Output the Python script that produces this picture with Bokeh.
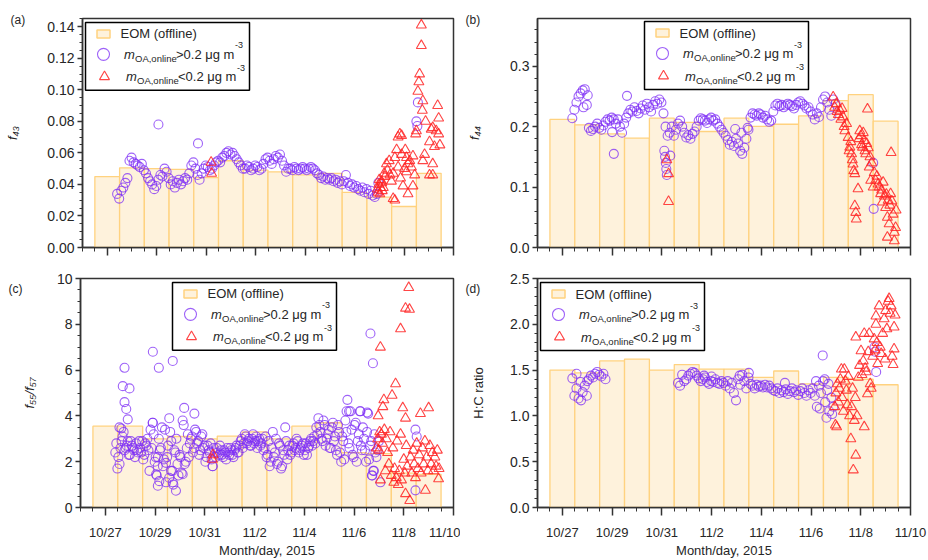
import numpy as np
from bokeh.plotting import figure
from bokeh.layouts import column, row
from bokeh.models import FixedTicker, Range1d, NumeralTickFormatter, BoxAnnotation
from bokeh.core.properties import value
from bokeh.embed import file_html
from bokeh.resources import INLINE

FONT = "Liberation Sans"
TXT = "#262626"
AX = "#333333"
BAR_FILL = "#FEF2DC"
BAR_LINE = "#FFD27F"
PURPLE = "#7E2EF5"
RED = "#FF2424"

# ---------------- data (x = days after 10/26/2015 00:00) ----------------
bar_days = list(range(1, 15))
x_major = [1, 3, 5, 7, 9, 11, 13, 15]
x_labels = ["10/27", "10/29", "10/31", "11/2", "11/4", "11/6", "11/8", "11/10"]

# EOM (offline) daily bars
bars_a = [0.045, 0.0505, 0.050, 0.0495, 0.0443, 0.055, 0.049, 0.048, 0.046, 0.047, 0.035, 0.032, 0.026, 0.047]
bars_b = [0.212, 0.203, 0.188, 0.181, 0.214, 0.207, 0.192, 0.214, 0.2005, 0.204, 0.218, 0.243, 0.253, 0.209]
bars_c = [3.55, 3.55, 3.0, 3.1, 3.0, 3.12, 3.3, 3.0, 3.55, 3.7, 2.4, 2.35, 1.5, 1.45]
bars_d = [1.50, 1.47, 1.60, 1.62, 1.50, 1.56, 1.51, 1.51, 1.42, 1.49, 1.35, 1.42, 1.40, 1.34]

# online, mOA > 0.2 (2-hourly series)
circ_step = 1.0 / 12.0
circ_a_start = 1.40
circ_a = [0.034, 0.031, 0.036, 0.038, 0.041, 0.044, 0.055, 0.057, 0.054, 0.053, 0.052, 0.051,
          0.053, 0.049, 0.047, 0.044, 0.042, 0.040, 0.037, 0.039, 0.043, 0.046, 0.045, 0.050,
          0.048, 0.044, 0.040, 0.042, 0.038, 0.041, 0.043, 0.040, 0.042, 0.044, 0.043, 0.047,
          0.052, 0.054, 0.050, 0.046, 0.043, 0.047, 0.050, 0.052, 0.051, 0.049, 0.050, 0.052,
          0.054, 0.055, 0.054, 0.057, 0.058, 0.060, 0.061, 0.059, 0.060, 0.058, 0.056, 0.054,
          0.052, 0.050, 0.050, 0.052, 0.051, 0.049, 0.050, 0.052, 0.051, 0.049, 0.050, 0.053,
          0.056, 0.057, 0.055, 0.053, 0.056, 0.058, 0.057, 0.059, 0.055, 0.052, 0.048, 0.050,
          0.050, 0.049, 0.051, 0.050, 0.049, 0.050, 0.051, 0.050, 0.049, 0.050, 0.051, 0.050,
          0.049, 0.047, 0.046, 0.044, 0.045, 0.043, 0.044, 0.043, 0.044, 0.042, 0.043, 0.041,
          0.042, 0.040, 0.042, 0.046, 0.041, 0.039, 0.040, 0.038, 0.039, 0.037, 0.036, 0.038,
          0.035, 0.037, 0.034, 0.036, 0.033, 0.032, 0.034]
circ_a_extra = [(3.07, 0.078), (4.67, 0.066), (13.50, 0.080), (13.54, 0.077), (13.56, 0.092), (11.96, 0.041)]

circ_b_start = 1.40
circ_b = [0.214, 0.228, 0.240, 0.250, 0.255, 0.260, 0.262, 0.236, 0.198, 0.193, 0.196, 0.200,
          0.205, 0.198, 0.195, 0.202, 0.208, 0.212, 0.210, 0.215, 0.212, 0.205, 0.212, 0.200,
          0.190, 0.205, 0.215, 0.222, 0.228, 0.225, 0.232, 0.226, 0.222, 0.230, 0.235, 0.228,
          0.238, 0.232, 0.225, 0.236, 0.242, 0.238, 0.245, 0.240, 0.222, 0.200, 0.185, 0.190,
          0.200, 0.185, 0.195, 0.205, 0.210, 0.200, 0.190, 0.182, 0.186, 0.180, 0.188, 0.192,
          0.200, 0.210, 0.214, 0.212, 0.210, 0.206, 0.212, 0.215, 0.210, 0.212, 0.205, 0.200,
          0.195, 0.190, 0.185, 0.178, 0.170, 0.175, 0.168, 0.180, 0.172, 0.160, 0.155, 0.165,
          0.180, 0.195, 0.215, 0.222, 0.220, 0.218, 0.222, 0.220, 0.215, 0.218, 0.212, 0.208,
          0.210, 0.225, 0.235, 0.238, 0.234, 0.236, 0.232, 0.235, 0.238, 0.236, 0.234, 0.230,
          0.236, 0.240, 0.242, 0.238, 0.235, 0.230, 0.232, 0.225, 0.220, 0.212, 0.222, 0.216,
          0.232, 0.245, 0.250, 0.240, 0.228, 0.218, 0.245, 0.238]
circ_b_extra = [(1.85, 0.232), (2.02, 0.252), (3.07, 0.155), (3.00, 0.191), (3.60, 0.251),
                (5.10, 0.160), (5.13, 0.150), (5.16, 0.140), (5.18, 0.130), (5.20, 0.120),
                (5.34, 0.152), (13.50, 0.140), (13.52, 0.064), (7.95, 0.196), (8.20, 0.190), (8.45, 0.198)]

circ_c_start = 1.40
circ_c = [2.4, 1.7, 3.5, 2.9, 3.3, 2.6, 2.9, 2.3, 2.7, 2.5, 2.8, 2.4,
          2.6, 2.9, 2.3, 2.7, 2.5, 3.4, 3.7, 2.0, 1.4, 3.0, 2.6, 1.8,
          3.4, 2.2, 1.3, 2.9, 1.0, 2.4, 1.9, 2.3, 1.5, 3.6, 2.0, 3.2,
          2.8, 3.1, 2.6, 3.3, 2.9, 2.5, 3.2, 2.7, 2.2, 2.5, 2.8, 1.8,
          2.4, 2.6, 2.3, 2.5, 2.2, 2.4, 2.6, 2.3, 2.5, 2.2, 2.6, 2.4,
          2.7, 3.0, 2.8, 3.1, 2.9, 2.7, 3.0, 2.8, 3.1, 2.9, 2.7, 3.0,
          2.6, 2.2, 2.9, 2.0, 3.3, 2.4, 1.9, 2.8, 1.7, 2.5, 3.5, 2.1,
          2.7, 2.4, 2.8, 2.6, 2.9, 2.5, 2.7, 2.3, 2.8, 2.6, 2.9, 2.7,
          3.1, 3.5, 3.9, 3.3, 2.9, 3.6, 3.0, 3.4, 2.6, 3.7, 3.1, 2.3,
          3.3, 2.0, 2.9, 3.8, 4.7, 2.6, 3.4, 2.2, 3.7, 2.9, 4.2, 2.5,
          3.0, 2.0, 4.1, 2.7, 1.4, 3.2, 2.2]
circ_c2_start = 1.44
circ_c2 = [2.8, 2.2, 2.6, 3.1, 2.5, 2.7, 2.3, 2.9, 2.6, 2.2, 2.5, 2.9,
           2.4, 2.1, 2.8, 3.0, 1.6, 2.6, 3.2, 2.2, 1.8, 2.5, 3.5, 2.1,
           1.1, 2.7, 3.3, 1.6, 2.5, 3.0, 1.4, 2.2, 3.8, 1.9, 2.6, 2.2,
           3.0, 2.4, 3.4, 2.8, 2.3, 3.1, 2.6, 2.0, 2.7, 2.4, 2.1, 2.6,
           2.2, 2.4, 2.7, 2.3, 2.5, 2.1, 2.4, 2.6, 2.3, 2.5, 2.7, 2.4,
           2.9, 2.6, 3.2, 2.8, 3.0, 2.7, 3.2, 2.9, 2.6, 3.0, 2.8, 2.5,
           3.1, 2.3, 1.8, 2.6, 2.2, 3.0, 2.0, 2.7, 1.8, 2.3, 2.9, 2.5,
           2.3, 2.7, 2.5, 3.0, 2.4, 2.6, 2.8, 2.5, 2.3, 2.7, 3.0, 2.9,
           2.8, 3.2, 3.6, 3.0, 3.8, 2.7, 3.2, 2.6, 3.5, 2.9, 2.5, 3.6,
           2.4, 3.1, 2.1, 3.3, 2.8, 4.2, 2.3, 3.6, 2.0, 3.2, 2.7, 3.5,
           2.5, 3.3, 2.1, 2.9, 1.6, 2.4]
circ_c_extra = [(1.77, 6.1), (1.70, 5.3), (1.97, 5.2), (1.77, 4.6), (1.84, 4.3), (1.90, 3.85), (1.64, 3.45),
                (1.57, 1.9), (2.91, 6.8), (3.15, 6.1), (3.71, 6.4), (2.91, 3.7), (3.11, 2.2), (3.04, 1.45),
                (3.17, 1.15), (3.11, 0.95), (3.57, 3.9), (3.44, 1.95), (3.64, 1.6), (3.71, 1.1), (3.84, 0.73),
                (4.11, 1.45), (4.17, 4.35), (4.58, 4.1), (5.31, 1.8), (10.70, 4.2), (10.80, 4.2), (11.26, 4.2),
                (11.53, 4.15), (11.66, 7.6), (11.76, 6.3), (11.72, 1.4), (12.06, 1.1), (11.80, 1.6),
                (13.47, 3.4), (13.52, 3.1), (13.47, 0.75), (12.00, 2.9), (11.95, 2.5)]

circ_d1_start = 1.40
circ_d1 = [1.41, 1.22, 1.30, 1.19, 1.37, 1.26, 1.33, 1.22, 1.40, 1.44, 1.42, 1.46, 1.48, 1.45, 1.43, 1.46, 1.40]
circ_d2_start = 5.65
circ_d2 = [1.36, 1.33, 1.45, 1.38, 1.40, 1.44, 1.46, 1.48, 1.47, 1.44, 1.41, 1.38,
           1.40, 1.42, 1.37, 1.35, 1.38, 1.37, 1.40, 1.36, 1.35, 1.38, 1.36, 1.33,
           1.38, 1.30, 1.36, 1.25, 1.17, 1.40, 1.34, 1.45, 1.38, 1.30, 1.42, 1.35,
           1.33, 1.30, 1.34, 1.32, 1.33, 1.31, 1.34, 1.31, 1.33, 1.30, 1.28, 1.27,
           1.30, 1.25, 1.28, 1.26, 1.29, 1.24, 1.27, 1.30, 1.26, 1.28, 1.23, 1.27,
           1.30, 1.25, 1.22, 1.28, 1.25, 1.30, 1.22, 1.10, 1.33, 1.25, 1.38, 1.15,
           1.28, 1.05, 1.20, 1.10]
circ_d_extra = [(1.57, 1.46), (1.75, 1.17), (2.00, 1.38), (6.70, 1.44), (7.00, 1.43), (8.13, 1.44),
                (8.50, 1.47), (9.95, 1.36), (11.20, 1.38), (11.35, 1.08), (11.47, 1.66), (11.55, 1.40),
                (11.62, 0.98), (11.70, 1.35), (11.85, 1.02), (13.55, 1.75), (13.57, 1.70), (13.62, 1.48)]

# online, mOA < 0.2
tri_a = [(5.20, 0.054), (5.22, 0.047), (11.92, 0.037), (11.95, 0.035), (11.98, 0.040), (12.00, 0.043),
         (12.02, 0.034), (12.05, 0.038), (12.09, 0.042), (12.10, 0.041), (12.12, 0.036), (12.16, 0.038),
         (12.20, 0.047), (12.23, 0.045), (12.29, 0.053), (12.33, 0.049), (12.43, 0.046), (12.49, 0.042),
         (12.56, 0.047), (12.56, 0.031), (12.63, 0.057), (12.63, 0.030), (12.70, 0.062), (12.76, 0.070),
         (12.76, 0.051), (12.83, 0.072), (12.90, 0.071), (12.90, 0.059), (12.96, 0.039), (13.02, 0.050),
         (13.10, 0.057), (13.10, 0.048), (13.16, 0.053), (13.16, 0.034), (13.23, 0.055), (13.30, 0.051),
         (13.36, 0.058), (13.36, 0.039), (13.43, 0.046), (13.47, 0.072), (13.56, 0.099), (13.60, 0.105),
         (13.63, 0.110), (13.70, 0.141), (13.70, 0.128), (13.74, 0.087), (13.76, 0.093), (13.76, 0.055),
         (13.83, 0.059), (13.87, 0.080), (14.03, 0.067), (14.03, 0.046), (14.10, 0.075), (14.16, 0.076),
         (14.16, 0.053), (14.16, 0.046), (14.23, 0.064), (14.30, 0.074), (14.36, 0.090), (14.40, 0.082),
         (14.40, 0.072), (14.45, 0.065), (12.40, 0.055), (12.86, 0.044), (13.05, 0.062), (13.50, 0.074)]
tri_b = [(5.20, 0.145), (5.27, 0.122), (5.27, 0.076), (11.89, 0.249), (11.95, 0.232), (12.02, 0.238),
         (12.05, 0.225), (12.10, 0.220), (12.16, 0.227), (12.20, 0.212), (12.25, 0.230), (12.29, 0.216),
         (12.33, 0.200), (12.36, 0.193), (12.43, 0.205), (12.49, 0.182), (12.53, 0.160), (12.56, 0.166),
         (12.60, 0.175), (12.63, 0.155), (12.66, 0.145), (12.69, 0.138), (12.72, 0.127), (12.76, 0.122),
         (12.76, 0.069), (12.80, 0.058), (12.82, 0.047), (12.89, 0.097), (12.93, 0.180), (12.96, 0.193),
         (13.00, 0.185), (13.03, 0.170), (13.07, 0.166), (13.10, 0.190), (13.14, 0.177), (13.17, 0.160),
         (13.20, 0.155), (13.24, 0.172), (13.27, 0.229), (13.30, 0.165), (13.34, 0.133), (13.37, 0.150),
         (13.40, 0.111), (13.44, 0.140), (13.50, 0.100), (13.54, 0.124), (13.60, 0.111), (13.65, 0.118),
         (13.70, 0.105), (13.74, 0.100), (13.80, 0.089), (13.84, 0.095), (13.87, 0.075), (13.90, 0.108),
         (13.95, 0.085), (14.00, 0.066), (14.03, 0.088), (14.07, 0.050), (14.07, 0.017), (14.10, 0.078),
         (14.14, 0.039), (14.17, 0.070), (14.20, 0.089), (14.22, 0.157), (14.25, 0.077), (14.30, 0.055),
         (14.35, 0.025), (14.35, 0.011), (14.40, 0.033), (14.42, 0.062)]
tri_c = [(5.30, 2.1), (5.33, 2.3), (11.90, 2.6), (11.95, 3.0), (11.97, 4.0), (12.00, 2.5), (12.03, 3.3),
         (12.06, 7.0), (12.06, 1.2), (12.10, 3.2), (12.14, 2.8), (12.16, 4.4), (12.20, 4.7), (12.22, 3.4),
         (12.26, 1.6), (12.30, 3.0), (12.35, 2.4), (12.40, 1.9), (12.45, 3.3), (12.50, 1.4), (12.53, 4.9),
         (12.56, 2.6), (12.60, 1.1), (12.63, 1.7), (12.67, 5.4), (12.70, 1.3), (12.73, 2.9), (12.78, 1.0),
         (12.82, 1.6), (12.87, 7.8), (12.87, 3.2), (12.91, 1.2), (12.96, 4.35), (13.00, 2.1), (13.04, 1.5),
         (13.07, 8.7), (13.07, 3.9), (13.07, 0.6), (13.10, 2.7), (13.14, 1.8), (13.20, 9.6), (13.23, 8.65),
         (13.24, 0.3), (13.27, 2.2), (13.32, 1.5), (13.38, 2.5), (13.42, 1.9), (13.47, 1.3), (13.52, 2.8),
         (13.57, 1.7), (13.62, 2.3), (13.67, 4.1), (13.70, 1.5), (13.75, 2.6), (13.80, 1.9), (13.85, 2.9),
         (13.87, 0.75), (13.92, 2.2), (13.97, 1.6), (14.00, 4.35), (14.05, 2.7), (14.10, 1.9), (14.15, 2.4),
         (14.20, 1.6), (14.25, 2.2), (14.30, 1.8), (14.35, 2.5), (14.40, 1.25), (14.42, 1.7)]
tri_d = [(11.95, 1.10), (11.98, 0.90), (12.00, 1.25), (12.03, 0.88), (12.06, 1.35), (12.10, 1.15),
         (12.14, 1.30), (12.18, 1.40), (12.22, 1.51), (12.25, 1.20), (12.30, 1.05), (12.34, 1.51),
         (12.38, 1.38), (12.42, 1.28), (12.46, 1.12), (12.50, 1.43), (12.55, 1.00), (12.60, 0.75),
         (12.63, 1.10), (12.67, 1.30), (12.70, 0.41), (12.74, 0.95), (12.78, 1.20), (12.80, 0.57),
         (12.80, 1.86), (12.85, 1.00), (12.90, 1.42), (12.95, 1.55), (13.01, 1.71), (13.05, 1.45),
         (13.10, 1.60), (13.14, 0.88), (13.14, 1.90), (13.18, 1.52), (13.22, 1.48), (13.27, 1.24),
         (13.30, 1.70), (13.34, 1.90), (13.38, 1.35), (13.42, 1.30), (13.48, 1.65), (13.54, 1.84),
         (13.58, 1.72), (13.61, 2.00), (13.61, 2.09), (13.65, 1.80), (13.68, 1.57), (13.74, 2.20),
         (13.78, 1.75), (13.82, 1.68), (13.88, 1.90), (13.94, 2.06), (13.98, 1.62), (14.00, 2.15),
         (14.05, 1.95), (14.10, 2.25), (14.14, 2.28), (14.18, 2.12), (14.22, 2.20), (14.26, 1.65),
         (14.30, 1.56), (14.34, 1.97), (14.34, 1.73), (14.38, 2.10)]

legend_labels = ["EOM (offline)", ">0.2 \u03bcg m", "<0.2 \u03bcg m"]


def series(segments, extra):
    xs, ys = [], []
    for start, vals in segments:
        xs.extend(list(start + np.arange(len(vals)) * circ_step))
        ys.extend(vals)
    for t, v in extra:
        xs.append(t)
        ys.append(v)
    return xs, ys


CIRC_STYLE = dict(fill_color=None, line_color=PURPLE, line_alpha=0.75, line_width=1.1)
TRI_STYLE = dict(fill_color=None, line_color=RED, line_alpha=0.85, line_width=1.1)


def panel(width, height, bl, br, bt, bb, y_end, y_major, y_minor, y_fmt, show_x,
          bars, circ, tri, box_x, box_top, tag, tag_standoff, ytitle, ystyle, ystand):
    fw = width - bl - br
    fh = height - bt - bb
    p = figure(width=width, height=height, x_range=Range1d(0, 15), y_range=Range1d(0, y_end),
               output_backend="svg", toolbar_location=None,
               min_border_left=bl, min_border_right=br, min_border_top=bt, min_border_bottom=bb)
    p.grid.visible = False
    p.outline_line_color = AX
    p.outline_line_width = 1.5
    p.outline_line_alpha = 1
    p.title.text = tag
    p.title.align = "left"
    p.title.offset = -72
    p.title.standoff = tag_standoff
    p.title.text_font = FONT
    p.title.text_font_size = "12px"
    p.title.text_font_style = "normal"
    p.title.text_color = TXT
    for ax in (p.xaxis[0], p.yaxis[0]):
        ax.axis_line_color = AX
        ax.axis_line_width = 1.5
        ax.major_tick_line_color = AX
        ax.major_tick_line_width = 1.5
        ax.minor_tick_line_color = AX
        ax.minor_tick_line_width = 1
        ax.major_tick_in = 0
        ax.minor_tick_in = 0
        ax.major_label_text_font = FONT
        ax.major_label_text_color = TXT
        ax.axis_label_text_font = FONT
        ax.axis_label_text_font_size = "13px"
        ax.axis_label_text_color = TXT
    xa = p.xaxis[0]
    xa.ticker = FixedTicker(ticks=x_major, minor_ticks=[i * 0.5 for i in range(31)])
    xa.major_tick_out = 8
    xa.minor_tick_out = 4
    xa.major_label_text_font_size = "13px"
    if show_x:
        xa.major_label_overrides = {d: s for d, s in zip(x_major, x_labels)}
        xa.major_label_standoff = 9
        xa.axis_label = "Month/day, 2015"
        xa.axis_label_text_font_style = "normal"
        xa.axis_label_standoff = 0
    else:
        xa.major_label_overrides = {d: "" for d in x_major}
        xa.major_label_text_font_size = "0px"
        xa.major_label_standoff = 0
    ya = p.yaxis[0]
    ya.ticker = FixedTicker(ticks=y_major, minor_ticks=y_minor)
    ya.formatter = NumeralTickFormatter(format=y_fmt)
    ya.major_tick_out = 5
    ya.minor_tick_out = 3
    ya.major_label_standoff = 3
    ya.major_label_text_font_size = "14px"
    ya.axis_label = ytitle
    ya.axis_label_text_font_style = ystyle
    ya.axis_label_standoff = ystand

    p.vbar(x=bar_days, top=bars, width=1.0, bottom=0, fill_color=BAR_FILL,
           line_color=BAR_LINE, line_width=1.3)
    p.scatter(x=circ[0], y=circ[1], marker="circle", size=9, **CIRC_STYLE)
    p.scatter(x=[t for t, v in tri], y=[v for t, v in tri], marker="triangle", size=10, **TRI_STYLE)

    # ---- legend (keys and rich-text labels placed at fixed pixel offsets) ----
    def X(sx):
        return sx * 15.0 / fw

    def Y(sy):
        return sy * y_end / fh

    def txt(sx, sy, s, size="13px", style="normal"):
        p.text(x=[X(sx)], y=[Y(sy)], text=[s], text_font=value(FONT),
               text_font_size=value(size), text_font_style=value(style), text_color=TXT,
               text_baseline="middle", text_align="left")

    p.add_layout(BoxAnnotation(left=X(box_x), right=X(box_x + 164), top=Y(box_top),
                               bottom=Y(box_top - 68), fill_color=None, fill_alpha=0,
                               line_color="black", line_width=1.5, line_alpha=1))
    r1, r2, r3 = box_top - 11.5, box_top - 32, box_top - 54.5
    p.rect(x=[X(box_x + 18)], y=[Y(r1)], width=13, height=8, width_units="screen",
           height_units="screen", fill_color=BAR_FILL, line_color=BAR_LINE, line_width=1.5)
    p.scatter(x=[X(box_x + 18)], y=[Y(r2)], marker="circle", size=12, **CIRC_STYLE)
    p.scatter(x=[X(box_x + 19)], y=[Y(r3)], marker="triangle", size=10, **TRI_STYLE)
    txt(box_x + 35, r1, legend_labels[0])
    for ry, mx, lab in ((r2, 38.5, legend_labels[1]), (r3, 40.5, legend_labels[2])):
        x0 = box_x + mx
        txt(x0, ry, "m", style="italic")
        txt(x0 + 11, ry - 4, "OA,online", size="9.5px")
        txt(x0 + 52, ry, lab)
        txt(x0 + 111, ry + 9, "-3", size="9px")
    return p


circ_a_xy = series([(circ_a_start, circ_a)], circ_a_extra)
circ_b_xy = series([(circ_b_start, circ_b)], circ_b_extra)
circ_c_xy = series([(circ_c_start, circ_c), (circ_c2_start, circ_c2)], circ_c_extra)
circ_d_xy = series([(circ_d1_start, circ_d1), (circ_d2_start, circ_d2)], circ_d_extra)

pa = panel(460, 262, 82, 7, 17, 15, 0.1452,
           [0, 0.02, 0.04, 0.06, 0.08, 0.10, 0.12, 0.14], [i * 0.005 for i in range(30)], "0.00",
           False, bars_a, circ_a_xy, tri_a, 3, 226, "(a)", -17, "f\u2084\u2083", "italic", 24)
pb = panel(468, 262, 77, 18, 18, 15, 0.379,
           [0, 0.1, 0.2, 0.3], [i * 0.02 for i in range(20)], "0.0",
           False, bars_b, circ_b_xy, tri_b, 107, 226, "(b)", -17, "f\u2084\u2084", "italic", 25)
pc = panel(460, 298, 80, 7, 15, 53, 10,
           [0, 2, 4, 6, 8, 10], [i * 0.5 for i in range(21)], "0",
           True, bars_c, circ_c_xy, tri_c, 92, 226, "(c)", -34, "f\u2085\u2085/f\u2085\u2087", "italic", 17)
pd = panel(468, 298, 77, 18, 16, 53, 2.5,
           [0, 0.5, 1.0, 1.5, 2.0, 2.5], [i * 0.1 for i in range(26)], "0.0",
           True, bars_d, circ_d_xy, tri_d, 3, 225, "(d)", -34, "H:C ratio", "normal", 21)

layout = column(row(pa, pb), row(pc, pd))
open("out.html", "w").write(file_html(layout, INLINE))
